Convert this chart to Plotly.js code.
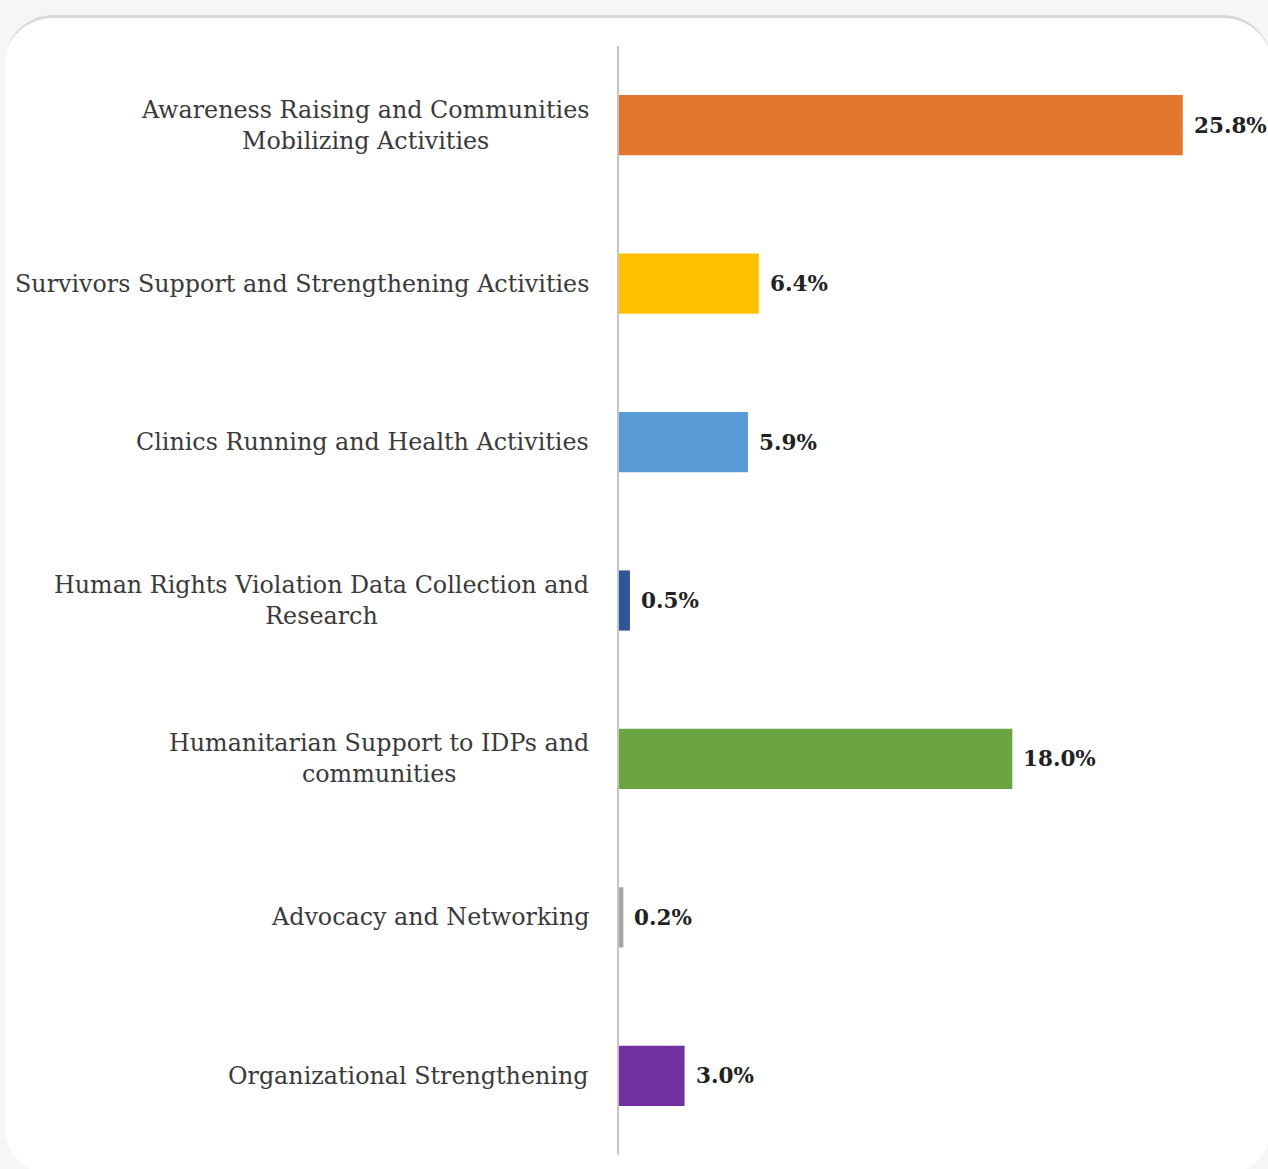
<!DOCTYPE html>
<html>
<head>
<meta charset="utf-8">
<script src="https://cdn.plot.ly/plotly-3.0.1.min.js"></script>
<style>
  html, body { margin: 0; padding: 0; background: #f6f6f8; }
  #wrap { position: relative; width: 1268px; height: 1169px; overflow: hidden; background: #f6f6f8; }
  #card { position: absolute; left: 5px; top: 15px; width: 1266px; height: 1160px; background: #ffffff;
          border-radius: 48px; border-top: 3px solid #d8d8da; box-sizing: border-box; }
  #chart { position: absolute; left: 0; top: 0; width: 1268px; height: 1169px; }
</style>
</head>
<body>
<div id="wrap">
  <div id="card"></div>
  <div id="chart"></div>
</div>
<script>
const categories = [
  "Awareness Raising and Communities<br>Mobilizing Activities",
  "Survivors Support and Strengthening Activities",
  "Clinics Running and Health Activities",
  "Human Rights Violation Data Collection and<br>Research",
  "Humanitarian Support to IDPs and<br>communities",
  "Advocacy and Networking",
  "Organizational Strengthening"
];
const values = [25.8, 6.4, 5.9, 0.5, 18.0, 0.2, 3.0];
const valueLabels = ["25.8%", "6.4%", "5.9%", "0.5%", "18.0%", "0.2%", "3.0%"];
const colors = ["#E2762E", "#FFC000", "#5B9BD5", "#2F5597", "#6AA541", "#A5A5A5", "#7030A0"];

const trace = {
  type: "bar",
  orientation: "h",
  y: categories,
  x: values,
  marker: { color: colors, line: { width: 0 } },
  width: 0.38,
  hoverinfo: "none"
};

const annotations = [];
categories.forEach((c, i) => {
  annotations.push({
    x: 0, y: c, xref: "x", yref: "y",
    text: c, showarrow: false, xanchor: "right", yanchor: "middle",
    align: "center", xshift: -28,
    font: { family: "DejaVu Serif, serif", size: 23.8, color: "#3a3a3a" }
  });
  annotations.push({
    x: values[i], y: c, xref: "x", yref: "y",
    text: "<b>" + valueLabels[i] + "</b>", showarrow: false, xanchor: "left", yanchor: "middle",
    xshift: 9,
    font: { family: "DejaVu Serif, serif", size: 21.5, color: "#222222" }
  });
});

const layout = {
  width: 1268, height: 1169,
  margin: { l: 619, r: 0, t: 46, b: 14 },
  paper_bgcolor: "rgba(0,0,0,0)",
  plot_bgcolor: "rgba(0,0,0,0)",
  showlegend: false,
  xaxis: { range: [0, 29.7], visible: false, fixedrange: true },
  yaxis: {
    autorange: "reversed", showticklabels: false, ticks: "",
    showline: true, linecolor: "#c4c4c4", linewidth: 2, showgrid: false, zeroline: false
  },
  annotations: annotations
};

Plotly.newPlot("chart", [trace], layout, { displayModeBar: false, staticPlot: true });
</script>
</body>
</html>
